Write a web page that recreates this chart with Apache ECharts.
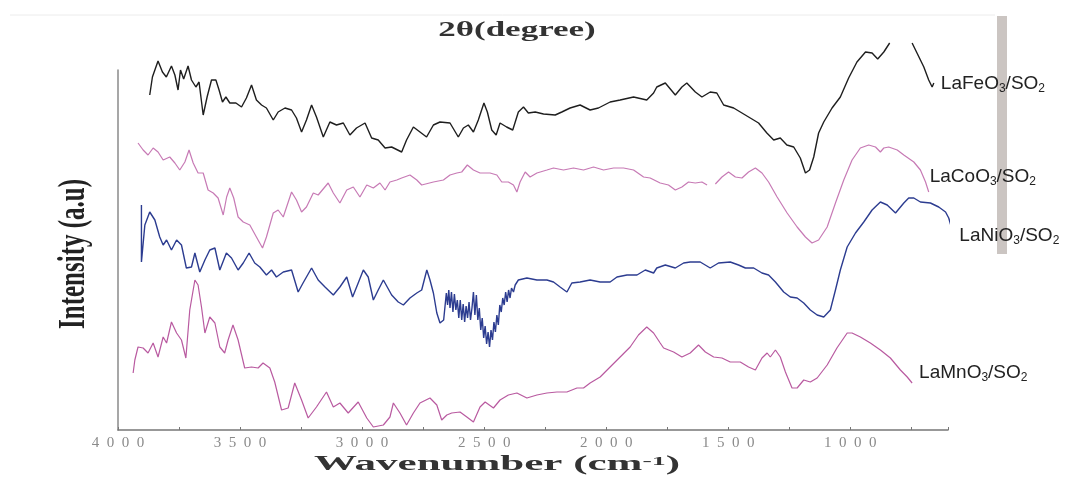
<!DOCTYPE html>
<html>
<head>
<meta charset="utf-8">
<script src="https://cdn.jsdelivr.net/npm/echarts@6/dist/echarts.min.js"></script>
<style>
  html, body { margin: 0; padding: 0; background: #fff; }
  #chart { width: 1075px; height: 477px; }
</style>
</head>
<body>
<div id="chart"></div>
<script>
// wavenumber (cm-1), intensity (a.u., curves offset)
const laFeData = [
  [3870,335],[3859,353],[3836,369],[3818,358],[3802,353],[3781,364],[3767,355],[3754,340],[3744,360],[3731,351],
  [3713,364],[3699,350],[3681,343],[3668,348],[3651,315],[3635,333],[3617,350],[3599,350],[3586,340],[3572,328],
  [3558,333],[3542,327],[3517,327],[3494,323],[3474,332],[3453,345],[3433,330],[3412,325],[3392,322],[3364,310],
  [3344,318],[3316,322],[3289,320],[3269,312],[3248,298],[3228,310],[3207,325],[3187,313],[3159,293],[3132,308],
  [3105,305],[3077,307],[3050,295],[3023,302],[2988,307],[2961,292],[2934,290],[2906,282],[2879,283],[2838,278],
  [2818,290],[2790,303],[2763,298],[2736,293],[2708,305],[2681,308],[2640,307],[2606,293],[2585,302],[2565,305],
  [2544,298],[2524,310],[2501,327],[2487,318],[2469,300],[2451,295],[2435,307],[2408,303],[2383,300],[2360,318],
  [2339,323],[2319,317],[2291,318],[2257,316],[2209,315],[2182,318],[2148,322],[2107,325],[2066,320],[2032,322],
  [1984,328],[1943,330],[1888,333],[1834,330],[1806,337],[1793,343],[1758,347],[1717,335],[1690,343],[1670,347],
  [1635,338],[1608,333],[1574,338],[1547,337],[1519,325],[1478,322],[1444,317],[1410,312],[1376,307],[1342,297],
  [1314,290],[1287,292],[1260,285],[1232,283],[1205,272],[1184,257],[1167,260],[1150,273],[1130,297],[1109,308],
  [1075,322],[1041,333],[1007,352],[973,368],[938,378],[911,377],[888,371],[863,378],[839,387],[800,'-'],
  [747,387],[727,377],[699,363],[679,350],[665,343],[658,347]
];

const laCoData = [
  [3918,287],[3897,280],[3877,275],[3856,282],[3836,278],[3815,270],[3788,273],[3767,267],[3747,260],[3726,268],
  [3709,280],[3692,267],[3672,257],[3651,257],[3631,240],[3610,237],[3590,232],[3569,215],[3555,233],[3542,242],
  [3526,232],[3508,213],[3487,208],[3460,205],[3433,193],[3408,182],[3392,193],[3364,217],[3344,220],[3323,213],
  [3289,238],[3269,230],[3248,218],[3228,223],[3200,237],[3180,235],[3139,247],[3118,237],[3091,227],[3063,240],
  [3036,243],[3009,233],[2981,245],[2954,242],[2927,247],[2906,240],[2886,248],[2858,250],[2838,252],[2804,255],
  [2776,250],[2756,245],[2708,248],[2667,250],[2640,255],[2612,257],[2592,258],[2569,265],[2544,260],[2517,257],
  [2476,257],[2448,255],[2428,248],[2401,248],[2380,245],[2366,238],[2353,248],[2332,258],[2312,253],[2284,257],
  [2243,260],[2216,262],[2175,260],[2134,262],[2093,260],[2052,263],[2011,260],[1970,262],[1929,262],[1888,260],
  [1847,253],[1820,252],[1779,247],[1745,245],[1717,240],[1690,243],[1663,248],[1635,247],[1608,248],[1587,245],
  [1570,'-'],[1553,246],[1526,253],[1499,258],[1471,253],[1444,252],[1417,258],[1389,262],[1362,257],[1335,248],
  [1300,233],[1259,217],[1218,203],[1184,193],[1157,187],[1130,190],[1095,203],[1061,227],[1027,250],[993,270],
  [959,282],[925,285],[897,283],[877,278],[863,282],[843,283],[808,280],[781,275],[740,268],[713,260],
  [692,248],[679,238]
];

const laNiData = [
  [3904,225],[3904,168],[3890,205],[3870,218],[3849,210],[3829,193],[3815,185],[3801,190],[3781,180],[3760,190],
  [3740,185],[3720,162],[3699,163],[3685,177],[3665,158],[3644,170],[3624,180],[3603,182],[3583,160],[3556,177],
  [3535,172],[3508,160],[3487,167],[3463,177],[3440,167],[3419,163],[3392,155],[3371,160],[3351,153],[3323,158],
  [3289,160],[3262,138],[3242,147],[3207,162],[3180,150],[3152,143],[3118,135],[3091,143],[3063,153],[3039,133],
  [3016,147],[2995,160],[2975,153],[2954,130],[2934,140],[2913,150],[2879,135],[2852,128],[2831,125],[2804,132],
  [2776,137],[2756,140],[2735,160],[2722,150],[2708,137],[2694,117],[2681,107],[2666,110],
  [2660,112],[2655,137],[2650,125],[2645,140],[2640,122],[2634,138],[2628,118],[2622,136],[2616,120],[2610,130],
  [2604,112],[2598,130],[2592,110],[2586,126],[2580,108],[2574,124],[2568,112],[2562,128],[2556,110],[2550,122],
  [2544,138],[2538,115],[2532,135],[2526,110],[2520,122],[2514,100],[2508,112],[2502,92],[2496,104],[2490,86],
  [2484,98],[2478,83],[2472,100],[2466,90],[2460,108],[2454,98],[2448,115],[2442,105],[2436,125],[2430,118],
  [2424,132],[2418,125],[2412,138],[2406,128],[2400,140],[2394,132],[2388,142],[2380,138],[2373,145],[2360,150],
  [2325,152],[2284,150],[2243,150],[2216,148],[2189,143],[2161,138],[2141,147],[2107,148],[2066,150],[2025,148],
  [1984,148],[1956,153],[1915,155],[1874,155],[1840,160],[1806,157],[1793,162],[1758,165],[1717,162],[1683,167],
  [1656,168],[1615,168],[1574,162],[1540,167],[1492,168],[1458,165],[1430,162],[1396,162],[1362,157],[1335,155],
  [1307,148],[1273,138],[1246,133],[1218,132],[1191,127],[1164,120],[1136,115],[1109,113],[1082,120],[1061,140],
  [1041,160],[1013,183],[979,197],[945,208],[911,220],[877,228],[849,225],[815,217],[781,227],[761,232],
  [740,232],[713,228],[672,227],[638,223],[610,218],[597,212],[578,196]
];

const laMnData = [
  [3938,57],[3931,70],[3918,83],[3897,82],[3877,77],[3856,87],[3836,73],[3815,93],[3801,87],[3781,108],
  [3760,97],[3740,90],[3722,72],[3706,120],[3685,150],[3672,145],[3658,123],[3644,97],[3624,113],[3603,107],
  [3583,83],[3563,77],[3549,90],[3529,105],[3508,90],[3481,62],[3453,63],[3426,62],[3406,67],[3378,62],
  [3358,48],[3330,20],[3303,22],[3276,47],[3248,30],[3221,12],[3187,23],[3146,38],[3118,23],[3091,27],
  [3057,17],[3016,28],[2981,12],[2954,3],[2913,5],[2886,13],[2872,27],[2845,17],[2818,5],[2790,17],
  [2763,27],[2722,32],[2694,25],[2674,10],[2653,15],[2633,17],[2599,18],[2571,13],[2544,8],[2517,23],
  [2496,28],[2462,22],[2435,30],[2401,35],[2366,37],[2325,32],[2284,35],[2243,37],[2202,38],[2161,38],
  [2120,42],[2093,42],[2066,47],[2025,53],[1984,63],[1943,73],[1902,83],[1868,95],[1834,103],[1806,97],
  [1779,87],[1765,82],[1724,78],[1690,73],[1656,77],[1622,85],[1594,78],[1560,73],[1526,72],[1492,68],
  [1451,68],[1417,63],[1389,60],[1362,72],[1341,77],[1328,73],[1307,80],[1287,73],[1266,58],[1239,42],
  [1218,42],[1191,50],[1164,48],[1136,52],[1095,65],[1055,82],[1013,97],[993,97],[959,93],[918,87],
  [877,80],[836,72],[795,60],[767,53],[747,47]
];

const seriesNames = ['LaFeO3/SO2', 'LaCoO3/SO2', 'LaNiO3/SO2', 'LaMnO3/SO2'];
const seriesLabels = [
  '{a|LaFeO}{s|3}{a|/SO}{s|2}',
  '{a|LaCoO}{s|3}{a|/SO}{s|2}',
  '{a|LaNiO}{s|3}{a|/SO}{s|2}',
  '{a|LaMnO}{s|3}{a|/SO}{s|2}'
];
const seriesData = [laFeData, laCoData, laNiData, laMnData];

const colors = ['#1e1e1e', '#c77ab5', '#2c3c90', '#b95aa0'];
const widths = [1.4, 1.2, 1.4, 1.2];
const labelOffsets = [[7, 1], [1, -15], [6, 2], [7, -10]];

const serifFont = '"Liberation Serif", "DejaVu Serif", serif';

const chart = echarts.init(document.getElementById('chart'));

let series = seriesData.map((data, i) => ({
  name: seriesNames[i],
  type: 'line',
  data: data,
  symbol: 'none',
  showSymbol: false,
  clip: false,
  connectNulls: false,
  lineStyle: { color: colors[i], width: widths[i] },
  endLabel: {
    show: true,
    formatter: seriesLabels[i],
    align: 'left',
    verticalAlign: 'middle',
    distance: 0,
    offset: labelOffsets[i],
    rich: {
      a: { fontFamily: 'Liberation Sans', fontSize: 19, color: '#222', lineHeight: 22 },
      s: { fontFamily: 'Liberation Sans', fontSize: 12, color: '#222', verticalAlign: 'bottom', lineHeight: 17 }
    }
  }
}));

chart.setOption({
  animation: false,
  grid: { left: 118, right: 127, top: 70, bottom: 47 },
  xAxis: {
    type: 'value',
    inverse: true,
    min: 600,
    max: 4000,
    axisLine: { lineStyle: { color: '#777', width: 1.5 } },
    axisTick: { show: true, inside: true, length: 3, lineStyle: { color: '#777' } },
    minorTick: { show: true, splitNumber: 2, length: 3, lineStyle: { color: '#777' } },
    splitLine: { show: false },
    axisLabel: {
      margin: 6,
      color: '#8a8a8a',
      fontFamily: serifFont,
      fontSize: 15,
      formatter: v => (v % 500 === 0 ? String(v).split('').join('\u2002') : '')
    }
  },
  yAxis: {
    type: 'value',
    min: 0,
    max: 360,
    axisLine: { show: true, lineStyle: { color: '#8a8a8a', width: 1.5 } },
    axisTick: { show: false },
    axisLabel: { show: false },
    splitLine: { show: false }
  },
  graphic: [
    {
      type: 'rect',
      shape: { x: 997, y: 16, width: 10, height: 238 },
      style: { fill: '#cbc5c2' },
      silent: true
    },
    {
      type: 'line',
      shape: { x1: 10, y1: 15, x2: 995, y2: 15 },
      style: { stroke: '#ececec', lineWidth: 1 },
      silent: true
    },
    {
      type: 'text',
      x: 517, y: 31,
      scaleX: 1.75,
      style: {
        text: '2θ(degree)',
        font: 'bold 20px ' + serifFont,
        fill: '#333',
        align: 'center', verticalAlign: 'middle',
        textAlign: 'center', textVerticalAlign: 'middle'
      }
    },
    {
      type: 'text',
      x: 74, y: 254,
      rotation: Math.PI / 2,
      scaleY: 1.55,
      style: {
        text: 'Intensity (a.u)',
        font: 'bold 25px ' + serifFont,
        fill: '#222',
        align: 'center', verticalAlign: 'middle',
        textAlign: 'center', textVerticalAlign: 'middle'
      }
    },
    {
      type: 'text',
      x: 497, y: 465,
      scaleX: 2.15,
      style: {
        text: 'Wavenumber (cm{sup|-1})',
        font: 'bold 20px ' + serifFont,
        fill: '#333',
        align: 'center', verticalAlign: 'middle',
        textAlign: 'center', textVerticalAlign: 'middle',
        rich: {
          sup: { fontFamily: serifFont, fontWeight: 'bold', fontSize: 13, fill: '#333', color: '#333', verticalAlign: 'top' }
        }
      }
    }
  ],
  series: series
});
</script>
</body>
</html>
